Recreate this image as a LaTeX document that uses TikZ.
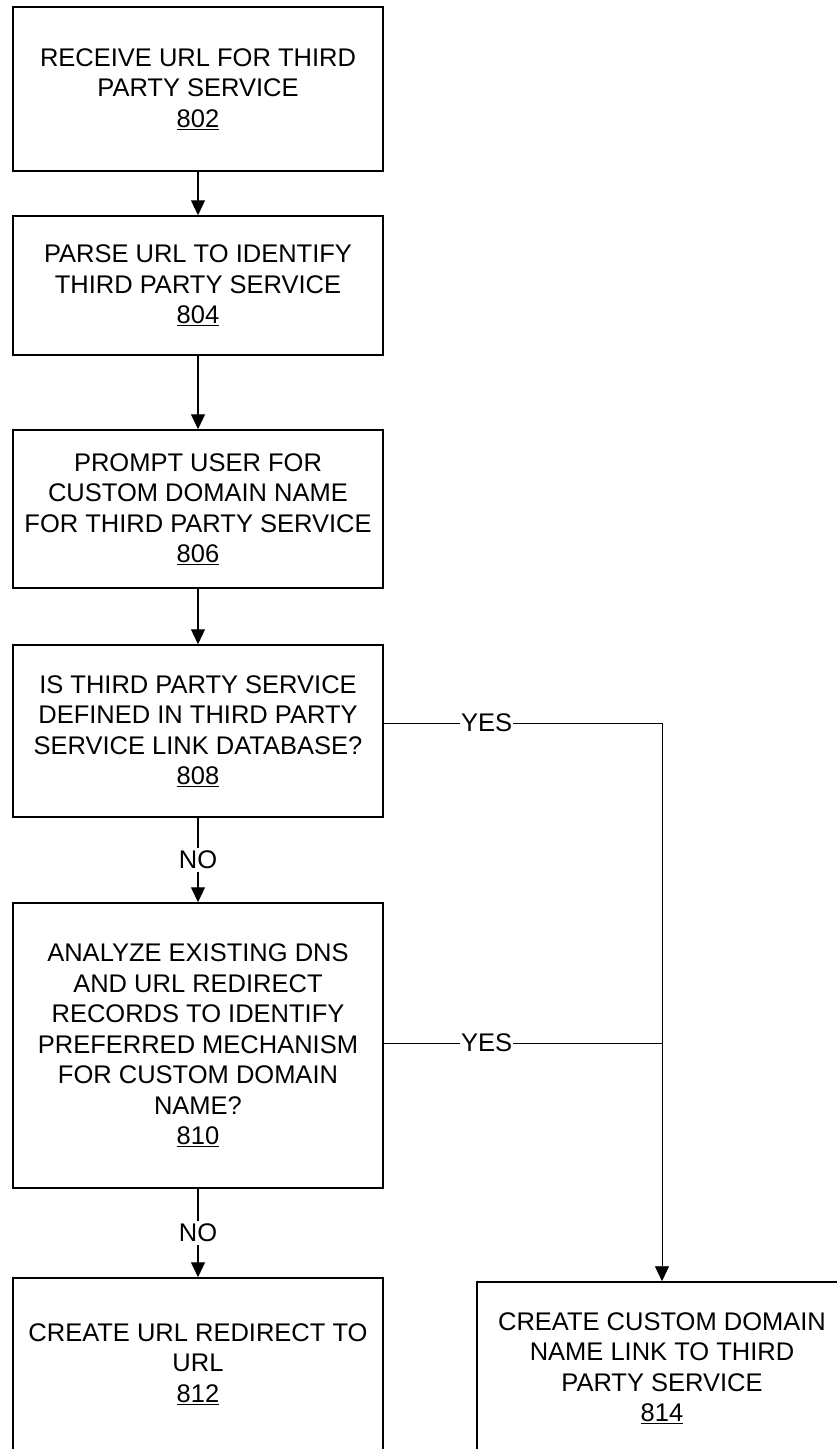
\documentclass[tikz,border=0pt]{standalone}
\usepackage{fontspec}
\setmainfont{Liberation Sans}
\usetikzlibrary{arrows.meta}

\begin{document}
\begin{tikzpicture}[x=1pt, y=-1pt,
    every node/.style={font=\fontsize{25.5}{30.5}\selectfont},
    box/.style={draw, line width=1.5pt, minimum width=370pt, inner sep=0pt, align=center},
    flow/.style={line width=1.2pt, -{Triangle[length=15pt, width=14pt]}},
    branch/.style={line width=0.9pt}]

    \clip (0,0) rectangle (837,1449);

    \node[box, minimum height=164pt] (receive) at (198, 89) {RECEIVE URL FOR THIRD\\PARTY SERVICE\\\underline{802}};
    \node[box, minimum height=139pt] (parse) at (198, 285.5) {PARSE URL TO IDENTIFY\\THIRD PARTY SERVICE\\\underline{804}};
    \node[box, minimum height=158pt] (prompt) at (198, 509) {PROMPT USER FOR\\CUSTOM DOMAIN NAME\\FOR THIRD PARTY SERVICE\\\underline{806}};
    \node[box, minimum height=172pt] (defined) at (198, 731) {IS THIRD PARTY SERVICE\\DEFINED IN THIRD PARTY\\SERVICE LINK DATABASE?\\\underline{808}};
    \node[box, minimum height=285pt] (analyze) at (198, 1045.5) {ANALYZE EXISTING DNS\\AND URL REDIRECT\\RECORDS TO IDENTIFY\\PREFERRED MECHANISM\\FOR CUSTOM DOMAIN\\NAME?\\\underline{810}};
    \node[box, minimum height=172pt] (redirect) at (198, 1364) {CREATE URL REDIRECT TO\\URL\\\underline{812}};
    \node[box, minimum height=172pt] (link) at (662, 1368) {CREATE CUSTOM DOMAIN\\NAME LINK TO THIRD\\PARTY SERVICE\\\underline{814}};

    \coordinate (yes1) at (662, 723);
    \coordinate (yes2) at (662, 1043);

    \draw[flow] (receive) -- (parse);
    \draw[flow] (parse) -- (prompt);
    \draw[flow] (prompt) -- (defined);
    \draw[flow] (defined) -- node[fill=white, inner sep=3pt] {NO} (analyze);
    \draw[flow] (analyze) -- node[fill=white, inner sep=3pt] {NO} (redirect);

    \draw[branch] (defined.east |- yes1) -- node[pos=0.37, fill=white, inner sep=1pt] {YES} (yes1);
    \draw[branch] (analyze.east |- yes2) -- node[pos=0.37, fill=white, inner sep=1pt] {YES} (yes2);
    \draw[flow, line width=0.9pt] (yes1) -- (link);

\end{tikzpicture}
\end{document}
